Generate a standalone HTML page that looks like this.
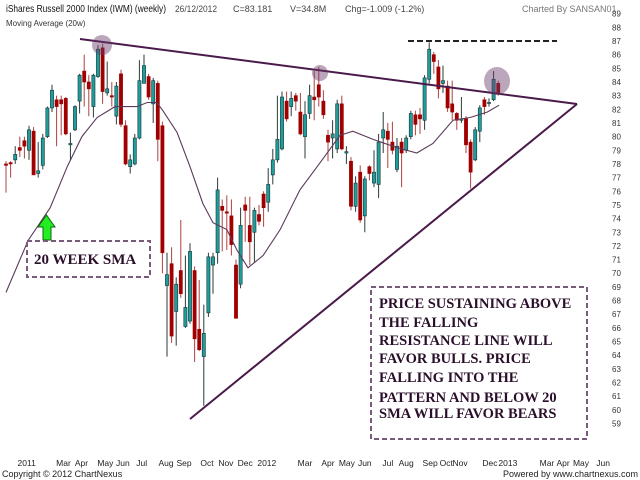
<!DOCTYPE html>
<html><head><meta charset="utf-8"><style>
html,body{margin:0;padding:0;background:#fff;width:640px;height:480px;overflow:hidden}
svg{display:block;font-family:"Liberation Sans",sans-serif}
</style></head><body>
<svg id="chart" width="640" height="480" viewBox="0 0 640 480">
<g id="candles"></g>
<g id="sma"></g>
<g id="yax"></g>
<g id="xax"></g>
<text x="6" y="12" font-size="10.5" textLength="160" lengthAdjust="spacingAndGlyphs" fill="#111">iShares Russell 2000 Index (IWM) (weekly)</text>
<text x="175" y="12" font-size="9" textLength="42" lengthAdjust="spacingAndGlyphs" fill="#444">26/12/2012</text>
<text x="233" y="12" font-size="9" fill="#444">C=83.181</text>
<text x="290" y="12" font-size="9" fill="#444">V=34.8M</text>
<text x="345" y="12" font-size="9" fill="#444">Chg=-1.009 (-1.2%)</text>
<text x="522" y="12" font-size="9" fill="#777">Charted By SANSAN01</text>
<text x="6" y="26" font-size="8" fill="#333">Moving Average (20w)</text>
<text x="2" y="477" font-size="9" fill="#222">Copyright © 2012 ChartNexus</text>
<text x="638" y="477" font-size="9" fill="#222" text-anchor="end">Powered by www.chartnexus.com</text>
<line x1="80" y1="39" x2="577" y2="104" stroke="#4a1a4a" stroke-width="2"/>
<line x1="190" y1="419" x2="577" y2="104" stroke="#4a1a4a" stroke-width="2"/>
<line x1="408" y1="41" x2="557" y2="41" stroke="#222" stroke-width="2" stroke-dasharray="6,3"/>
<circle cx="102" cy="45" r="10" fill="#6a3a6a" fill-opacity="0.45"/>
<circle cx="320" cy="73" r="8" fill="#6a3a6a" fill-opacity="0.45"/>
<ellipse cx="497" cy="81" rx="13" ry="14" fill="#6a3a6a" fill-opacity="0.45"/>
<path d="M43 240 L43 227 L38 227 L46.5 215 L55 227 L51 227 L51 240 Z" fill="#22ee22" stroke="#116611" stroke-width="1"/>
<rect x="27" y="241" width="123" height="36" fill="none" stroke="#7a5a7a" stroke-width="2" stroke-dasharray="5,3"/>
<text x="34" y="264" font-family="Liberation Serif,serif" font-weight="bold" font-size="15" fill="#2a0f2a">20 WEEK SMA</text>
<rect x="371" y="287" width="216" height="152" fill="none" stroke="#7a5a7a" stroke-width="2" stroke-dasharray="5,3"/>
<g font-family="Liberation Serif,serif" font-weight="bold" font-size="14.5" fill="#2a0f2a">
<text x="379" y="308">PRICE SUSTAINING ABOVE</text>
<text x="379" y="327">THE FALLING</text>
<text x="379" y="345">RESISTANCE LINE WILL</text>
<text x="379" y="363">FAVOR BULLS. PRICE</text>
<text x="379" y="382">FALLING INTO THE</text>
<text x="379" y="402">PATTERN AND BELOW 20</text>
<text x="379" y="418">SMA WILL FAVOR BEARS</text>
</g>
</svg>
<script>
const opens=[78.0,78.1,78.3,79.2,79.7,79.0,80.4,77.3,77.9,80.0,82.1,82.7,82.7,82.8,79.4,80.5,82.6,84.8,84.0,82.2,84.4,86.5,83.2,83.0,81.5,84.6,80.8,77.8,78.0,79.9,83.9,84.4,82.4,83.9,80.8,69.1,70.7,67.2,70.2,66.1,66.5,70.2,65.9,63.9,67.1,70.6,71.5,74.9,74.5,74.2,70.6,69.2,75.0,73.5,73.0,74.3,75.8,75.2,77.2,78.3,79.1,82.6,82.2,83.0,81.8,80.0,81.7,82.9,83.8,82.6,80.1,79.9,79.1,82.4,78.8,78.2,74.9,77.4,74.2,77.8,76.6,76.5,79.9,80.4,79.6,77.6,79.6,79.0,80.0,81.6,81.6,81.2,84.2,86.0,85.1,83.9,83.7,82.4,81.7,81.2,81.3,79.6,78.3,80.4,82.7,82.5,82.7,83.9];
const highs=[78.2,78.2,79.3,80.0,80.0,80.8,80.7,79.6,80.2,82.2,83.8,83.0,83.0,82.9,80.3,82.3,84.6,86.0,84.5,84.6,86.7,86.8,85.5,84.0,84.0,84.9,81.2,78.7,80.2,85.6,86.0,84.6,84.3,84.1,81.1,71.5,71.9,69.7,73.9,71.3,72.2,70.5,69.5,67.7,71.5,71.5,77.0,75.4,75.7,75.4,71.0,74.8,75.6,75.6,74.8,75.0,76.0,77.7,79.1,83.0,83.3,83.3,83.3,83.2,83.2,82.6,83.8,84.8,85.1,83.4,80.5,81.2,82.7,83.0,79.3,78.5,77.1,77.9,77.1,77.9,79.0,80.2,81.8,81.0,81.1,79.9,79.9,80.1,81.9,81.9,82.1,84.5,86.9,86.2,85.6,85.2,84.1,84.1,81.8,82.9,81.5,79.8,80.7,82.3,82.9,82.8,84.8,84.1];
const lows=[75.9,77.0,78.0,78.5,78.4,78.3,77.2,77.0,77.6,79.9,81.8,79.3,80.1,80.1,78.3,80.4,81.7,82.2,81.5,81.4,84.3,82.4,83.0,82.2,80.9,80.7,77.9,77.3,77.9,79.8,83.9,82.7,81.0,78.2,70.0,63.9,64.9,64.7,68.2,66.0,66.3,63.5,64.3,60.3,66.8,68.5,70.7,71.6,71.7,71.3,66.7,68.9,72.3,70.6,70.8,73.5,73.4,74.5,76.5,78.1,79.0,81.1,81.5,81.9,80.1,78.4,81.3,81.2,82.2,81.3,78.2,78.4,78.8,79.0,78.0,74.6,74.5,73.7,73.0,76.8,76.3,75.5,78.8,77.7,78.7,77.4,76.3,78.8,79.8,80.1,80.2,80.5,83.9,84.6,82.8,83.2,81.8,81.2,80.5,81.0,78.8,76.2,78.2,79.6,81.6,82.2,82.6,83.0];
const closes=[77.9,78.0,78.7,79.0,79.3,80.5,77.2,77.5,79.9,82.1,83.4,82.2,82.4,80.2,79.5,82.2,84.5,84.0,83.5,84.5,86.4,83.3,83.5,82.9,83.7,80.9,78.0,78.3,79.9,84.1,85.2,82.9,84.1,79.8,71.5,69.9,65.4,69.2,68.5,67.5,71.6,65.2,64.4,65.6,71.2,71.2,76.1,74.6,74.4,72.1,66.7,73.5,74.6,72.3,74.6,73.8,74.8,76.5,78.3,79.8,82.9,81.3,82.8,82.6,80.2,81.6,83.0,82.7,82.9,81.6,79.6,80.2,82.4,79.1,78.9,74.9,76.6,73.9,76.9,77.3,77.4,79.6,80.5,79.8,79.0,79.3,78.8,79.9,81.7,80.9,81.3,84.3,86.4,85.5,83.5,84.1,82.1,81.8,81.2,81.3,79.4,77.4,80.5,82.1,82.2,82.5,84.2,83.2];
const smaIdx=[0,4.8,9.6,13.3,16.5,19.8,23.7,28.5,30.7,32.8,34.1,37.2,40.0,42.8,45.0,48.0,50.2,52.6,55.9,59.6,63.9,68.3,72.6,75.4,79.8,85.0,89.3,92.8,97.2,100.9,104.6,107.2];
const smaVal=[68.6,72.4,74.8,77.8,80.0,81.4,82.2,82.2,82.5,82.5,81.9,80.3,77.8,75.1,73.7,73.2,71.7,70.4,71.3,73.2,76.1,78.1,80.1,80.4,79.8,79.2,78.8,79.5,81.2,81.4,81.8,82.3];
const yTicks=[89,88,87,86,85,84,83,82,81,80,79,78,77,76,75,74,73,72,71,70,69,68,67,66,65,64,63,62,61,60,59];
const xLabels=["2011","Mar","Apr","May","Jun","Jul","Aug","Sep","Oct","Nov","Dec","2012","Mar","Apr","May","Jun","Jul","Aug","Sep","Oct","Nov","Dec","2013","Mar","Apr","May","Jun"];
const xLabelWeeks=[4.5,12.5,16.4,21.6,25.4,29.5,34.8,38.7,43.7,47.8,52.0,56.7,65.0,70.0,74.1,78.0,83.0,87.0,92.2,95.7,98.7,105.2,109.1,117.6,121.1,125.0,129.8];
const NS='http://www.w3.org/2000/svg';
function yS(p){return 13.7+(89-p)*13.66;}
function xS(i){return 6+i*4.6;}
function mk(tag,attrs,parent){const e=document.createElementNS(NS,tag);for(const k in attrs)e.setAttribute(k,attrs[k]);parent.appendChild(e);return e;}
const cg=document.getElementById('candles');
for(let i=0;i<opens.length;i++){
  const up=closes[i]>=opens[i];
  const x=xS(i);
  const w=mk('line',{x1:x,x2:x,y1:yS(highs[i]),y2:yS(lows[i]),stroke:up?'#2a3a3a':'#b04040','stroke-width':1},cg);
  
  
  const top=yS(Math.max(opens[i],closes[i])),bot=yS(Math.min(opens[i],closes[i]));
  const r=mk('rect',{x:x-1.6,y:top,width:3.2,height:Math.max(1,bot-top),fill:up?'#1f9c9c':'#a00000',stroke:up?'#153535':'#a00000','stroke-width':0.6},cg);
  
  
}
const sg=document.getElementById('sma');
let d='';
for(let i=0;i<smaIdx.length;i++){d+=(i?'L':'M')+xS(smaIdx[i]).toFixed(1)+' '+yS(smaVal[i]).toFixed(1)+' ';}
const sp=mk('path',{d:d,fill:'none',stroke:'#5a3a5a','stroke-width':1.1},sg);


const ya=document.getElementById('yax');
for(const t of yTicks){
  const e=mk('text',{x:612,y:yS(t)+3,'font-size':8,fill:'#333'},ya);
  e.textContent=String(t);
  
  
}
const xa=document.getElementById('xax');
for(let i=0;i<xLabels.length;i++){
  const e=mk('text',{x:xS(xLabelWeeks[i]),y:466,'font-size':8.5,fill:'#222','text-anchor':'middle'},xa);
  e.textContent=xLabels[i];
  
  
}
</script>
</body></html>
